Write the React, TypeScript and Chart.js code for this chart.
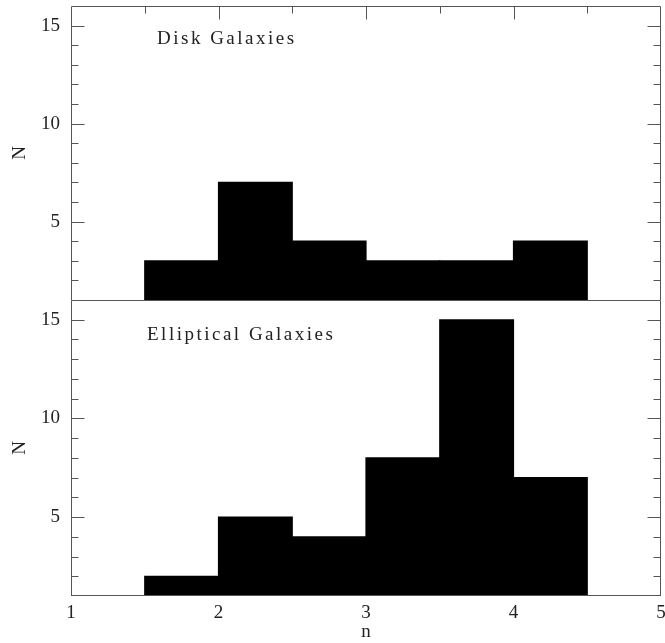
import React, { useEffect, useRef } from "react";
import { Chart, registerables } from "chart.js";

Chart.register(...registerables);

// ---- data ----
const binCenters = [1.75, 2.25, 2.75, 3.25, 3.75, 4.25];
const diskCounts = [3, 7, 4, 3, 3, 4];
const ellipticalCounts = [2, 5, 4, 8, 15, 7];
const yTickLabels = [5, 10, 15];
const xTickLabels = [1, 2, 3, 4, 5];
const X_MIN = 1;
const X_MAX = 5;
const Y_MIN = 1;
const Y_MAX = 16;

const FONT = "'Liberation Serif', 'DejaVu Serif', serif";
const INK = "#222";
const LINE = "#555";

function makeFramePlugin(label: string, dx: number, dy: number, spacing: number, drawBottom: boolean, topTicks: boolean) {
  return {
    id: "frame",
    afterDatasetsDraw(chart: any) {
      const { ctx, chartArea: a, scales } = chart;
      const x = scales.x;
      const y = scales.y;
      const L = Math.round(a.left) + 0.5;
      const R = Math.round(a.right) - 0.5;
      const T = Math.round(a.top) + 0.5;
      const B = Math.round(a.bottom) - 0.5;
      ctx.save();
      ctx.strokeStyle = LINE;
      ctx.lineWidth = 1;
      ctx.beginPath();
      ctx.moveTo(L, T);
      ctx.lineTo(R, T);
      ctx.moveTo(L, T);
      ctx.lineTo(L, B + 0.5);
      ctx.moveTo(R, T);
      ctx.lineTo(R, B + 0.5);
      if (drawBottom) {
        ctx.moveTo(L, B);
        ctx.lineTo(R, B);
      }
      // y ticks (inward, both sides)
      for (let v = Math.ceil(y.min); v <= Math.floor(y.max); v++) {
        const py = Math.round(y.getPixelForValue(v)) + 0.5;
        if (py <= T + 1 || py >= B - 1) continue;
        const len = v % 5 === 0 ? 13 : 7;
        ctx.moveTo(L, py);
        ctx.lineTo(L + len, py);
        ctx.moveTo(R, py);
        ctx.lineTo(R - len, py);
      }
      if (topTicks) {
        for (let i = Math.ceil(x.min * 2); i <= Math.floor(x.max * 2); i++) {
          const v = i / 2;
          const px = Math.round(x.getPixelForValue(v)) + 0.5;
          if (px <= L + 1 || px >= R - 1) continue;
          const len = i % 2 === 0 ? 13 : 7;
          ctx.moveTo(px, T);
          ctx.lineTo(px, T + len);
        }
      }
      ctx.stroke();
      ctx.fillStyle = INK;
      ctx.font = `19px ${FONT}`;
      (ctx as any).letterSpacing = `${spacing}px`;
      ctx.textBaseline = "middle";
      ctx.textAlign = "left";
      ctx.fillText(label, a.left + dx, a.top + dy);
      ctx.restore();
    },
  };
}

function yScale() {
  return {
    min: Y_MIN,
    max: Y_MAX,
    afterBuildTicks: (s: any) => {
      s.ticks = yTickLabels.map((v) => ({ value: v }));
    },
    afterFit: (s: any) => {
      s.width = 71;
      s.paddingTop = 0;
      s.paddingBottom = 0;
    },
    grid: { display: false, drawTicks: false },
    border: { display: false },
    ticks: { padding: 11, color: INK, font: { family: FONT, size: 19 } },
    title: {
      display: true,
      text: "N",
      color: INK,
      padding: { top: 9, bottom: 0 },
      font: { family: FONT, size: 19 },
    },
  };
}

function makeConfig(values: number[], bottomAxis: boolean, plugin: any, padding: any) {
  return {
    type: "bar" as const,
    data: {
      datasets: [
        {
          data: binCenters.map((c, i) => ({ x: c, y: values[i] })),
          backgroundColor: "#000",
          borderWidth: 0,
          inflateAmount: 0.6,
          barPercentage: 1,
          categoryPercentage: 1,
        },
      ],
    },
    options: {
      animation: false as const,
      responsive: false,
      layout: { padding },
      plugins: { legend: { display: false }, tooltip: { enabled: false } },
      scales: {
        x: bottomAxis
          ? {
              type: "linear" as const,
              min: X_MIN,
              max: X_MAX,
              offset: false,
              afterBuildTicks: (s: any) => {
                s.ticks = xTickLabels.map((v) => ({ value: v }));
              },
              afterFit: (s: any) => {
                s.height = 47;
                s.paddingLeft = 0;
                s.paddingRight = 0;
              },
              grid: { display: false, drawTicks: false },
              border: { display: false },
              ticks: {
                padding: 6,
                color: INK,
                maxRotation: 0,
                autoSkip: false,
                font: { family: FONT, size: 19 },
              },
              title: {
                display: true,
                text: "n",
                color: INK,
                padding: { top: 0, bottom: 0 },
                font: { family: FONT, size: 19 },
              },
            }
          : { type: "linear" as const, min: X_MIN, max: X_MAX, offset: false, display: false },
        y: yScale(),
      },
    },
    plugins: [plugin],
  };
}

export default function App() {
  const topRef = useRef<HTMLCanvasElement>(null);
  const botRef = useRef<HTMLCanvasElement>(null);

  useEffect(() => {
    const top = new Chart(
      topRef.current as HTMLCanvasElement,
      makeConfig(
        diskCounts,
        false,
        makeFramePlugin("Disk Galaxies", 86, 33, 2.5, false, true),
        { top: 6, right: 19, bottom: 1, left: 0 }
      ) as any
    );
    const bot = new Chart(
      botRef.current as HTMLCanvasElement,
      makeConfig(
        ellipticalCounts,
        true,
        makeFramePlugin("Elliptical Galaxies", 76, 35, 2.5, true, false),
        { top: 0, right: 19, bottom: 0, left: 0 }
      ) as any
    );
    return () => {
      top.destroy();
      bot.destroy();
    };
  }, []);

  return (
    <div
      style={{
        position: "fixed",
        left: 0,
        top: 0,
        width: 665,
        height: 643,
        overflow: "hidden",
        background: "#fff",
      }}
    >
      <canvas
        ref={topRef}
        width={680}
        height={301}
        style={{ position: "absolute", left: 0, top: 0, display: "block" }}
      />
      <canvas
        ref={botRef}
        width={680}
        height={343}
        style={{ position: "absolute", left: 0, top: 300, display: "block" }}
      />
    </div>
  );
}
